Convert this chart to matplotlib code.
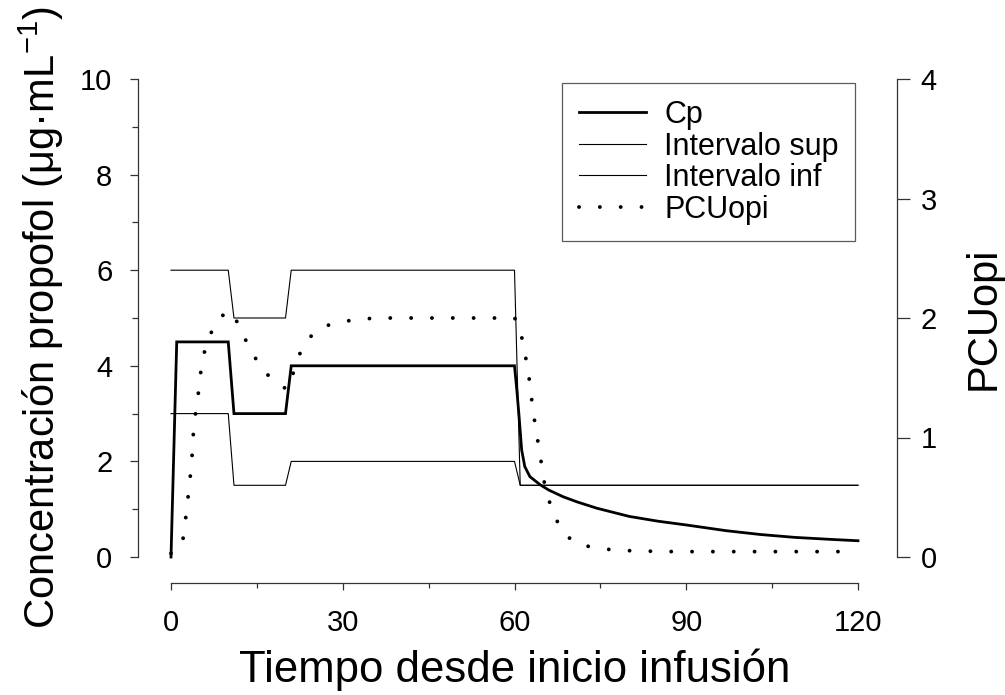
import numpy as np
import matplotlib
matplotlib.use("Agg")
import matplotlib.pyplot as plt

plt.rcParams['font.family'] = ['Liberation Sans', 'DejaVu Sans']
plt.rcParams['mathtext.fontset'] = 'custom'
plt.rcParams['mathtext.rm'] = 'Liberation Sans'
plt.rcParams['mathtext.default'] = 'regular'

# Plasma concentration (Cp) and therapeutic window bounds, time in minutes
t_cp = [0, 1, 10, 11, 20, 21, 60, 60.4, 60.8, 61.25, 61.8, 62.7, 64.5, 66, 68.5,
        71, 74.4, 80, 85, 90, 97, 103, 109, 115, 120]
cp = [0, 4.5, 4.5, 3, 3, 4, 4, 3.5, 2.94, 2.24, 1.89, 1.68, 1.51, 1.40, 1.26,
      1.15, 1.02, 0.85, 0.75, 0.67, 0.55, 0.47, 0.41, 0.37, 0.34]

t_int = [0, 10, 11, 20, 21, 60, 61, 120]
int_sup = [6, 6, 5, 5, 6, 6, 1.5, 1.5]
int_inf = [3, 3, 1.5, 1.5, 2, 2, 1.5, 1.5]

# Opioid PCU curve (right axis)
t_pcu = [0, 1, 1.6, 2.2, 2.6, 3.0, 3.4, 3.7, 3.9, 4.3, 4.8, 5.2, 5.9, 7.2, 8.5,
         10, 11, 12.3, 14.1, 16.5, 18.5, 20.3, 21, 21.7, 22.9, 24.5, 26, 28, 30,
         33, 36, 60, 60.5, 61, 61.7, 62.4, 62.8, 63.3, 63.8, 64.5, 64.9, 65.7,
         66.9, 68, 69.1, 70.5, 72.8, 76.3, 80, 84, 88, 120]
pcu = [0.03, 0.05, 0.08, 0.17, 0.34, 0.51, 0.69, 0.86, 1.03, 1.21, 1.38, 1.55,
       1.73, 1.90, 2.0, 2.06, 2.02, 1.89, 1.71, 1.54, 1.46, 1.40, 1.48, 1.60,
       1.75, 1.85, 1.91, 1.95, 1.97, 1.99, 2.0, 2.0, 1.97, 1.905, 1.73, 1.56,
       1.39, 1.21, 1.04, 0.86, 0.69, 0.52, 0.35, 0.25, 0.18, 0.12, 0.09, 0.064,
       0.053, 0.048, 0.045, 0.045]

x_ticks = [0, 30, 60, 90, 120]
y_ticks = [0, 2, 4, 6, 8, 10]
y2_ticks = [0, 1, 2, 3, 4]

W, H = 1005, 695
fig = plt.figure(figsize=(W / 100, H / 100), dpi=100)
px = 0.72  # points per pixel at 100 dpi

left, right, top, bottom = 171, 858, 79, 557
ax = fig.add_axes([left / W, 1 - bottom / H, (right - left) / W, (bottom - top) / H])
ax2 = ax.twinx()

spine_col = '#333333'
l_sup, = ax.plot(t_int, int_sup, color='black', lw=0.8, clip_on=False, label='Intervalo sup')
l_inf, = ax.plot(t_int, int_inf, color='black', lw=0.8, clip_on=False, label='Intervalo inf')
l_cp, = ax.plot(t_cp, cp, color='black', lw=2.0, clip_on=False, label='Cp',
                solid_joinstyle='miter')

dot_lw = 2.8
l_pcu, = ax2.plot(t_pcu, pcu, color='black', lw=dot_lw, clip_on=False,
                  linestyle=(0, (0.01, 20.8 * px / dot_lw)),
                  dash_capstyle='round', label='PCUopi')

ax.set_xlim(0, 120)
ax.set_ylim(0, 10)
ax2.set_ylim(0, 4)

for a in (ax, ax2):
    a.patch.set_visible(False)
    for s in a.spines.values():
        s.set_visible(False)

ax.spines['left'].set_visible(True)
ax.spines['bottom'].set_visible(True)
ax2.spines['right'].set_visible(True)
ax.spines['left'].set_position(('outward', 33 * px))
ax.spines['bottom'].set_position(('outward', 26 * px))
ax2.spines['right'].set_position(('outward', 39 * px))
for s in (ax.spines['left'], ax.spines['bottom'], ax2.spines['right']):
    s.set_color(spine_col)
    s.set_linewidth(0.9)

ax.set_xticks(x_ticks)
ax.set_xticks([15, 45, 75, 105], minor=True)
ax.set_yticks(y_ticks)
ax.set_yticks([1, 3, 5, 7, 9], minor=True)
ax2.set_yticks(y2_ticks)

ax.tick_params(axis='both', which='major', direction='out', length=6, width=0.9,
               color=spine_col, labelsize=21)
ax.tick_params(axis='both', which='minor', direction='out', length=4, width=0.9,
               color=spine_col)
ax.tick_params(axis='y', which='major', pad=12.5)
ax.tick_params(axis='x', which='major', length=5, pad=13.5)
ax.tick_params(axis='x', which='minor', length=3.5)
ax2.tick_params(axis='y', which='major', direction='out', length=9, width=0.9,
                color=spine_col, labelsize=21, pad=8)

fig.text(55 / W, 1 - 318 / H, 'Concentración propofol (μg·mL$^{-1}$)', rotation=90,
         rotation_mode='anchor', ha='center', va='baseline', fontsize=30)
fig.text(514.5 / W, 1 - 682 / H, 'Tiempo desde inicio infusión', ha='center',
         va='baseline', fontsize=31.5)
fig.text(995 / W, 1 - 318 / H, 'PCUopi', rotation=90, rotation_mode='anchor',
         ha='center', va='baseline', fontsize=30)

leg = fig.legend([l_cp, l_sup, l_inf, l_pcu], ['Cp', 'Intervalo sup', 'Intervalo inf', 'PCUopi'],
                 loc='upper left', bbox_to_anchor=(561.7 / W, 1 - 83.3 / H),
                 bbox_transform=fig.transFigure, borderaxespad=0, fontsize=22,
                 frameon=True, fancybox=False, shadow=False, handlelength=2.2,
                 handletextpad=0.6, labelspacing=0.05, borderpad=0.55)
leg.get_frame().set_edgecolor(spine_col)
leg.get_frame().set_linewidth(0.9)

fig.savefig('out.png', dpi=100)
